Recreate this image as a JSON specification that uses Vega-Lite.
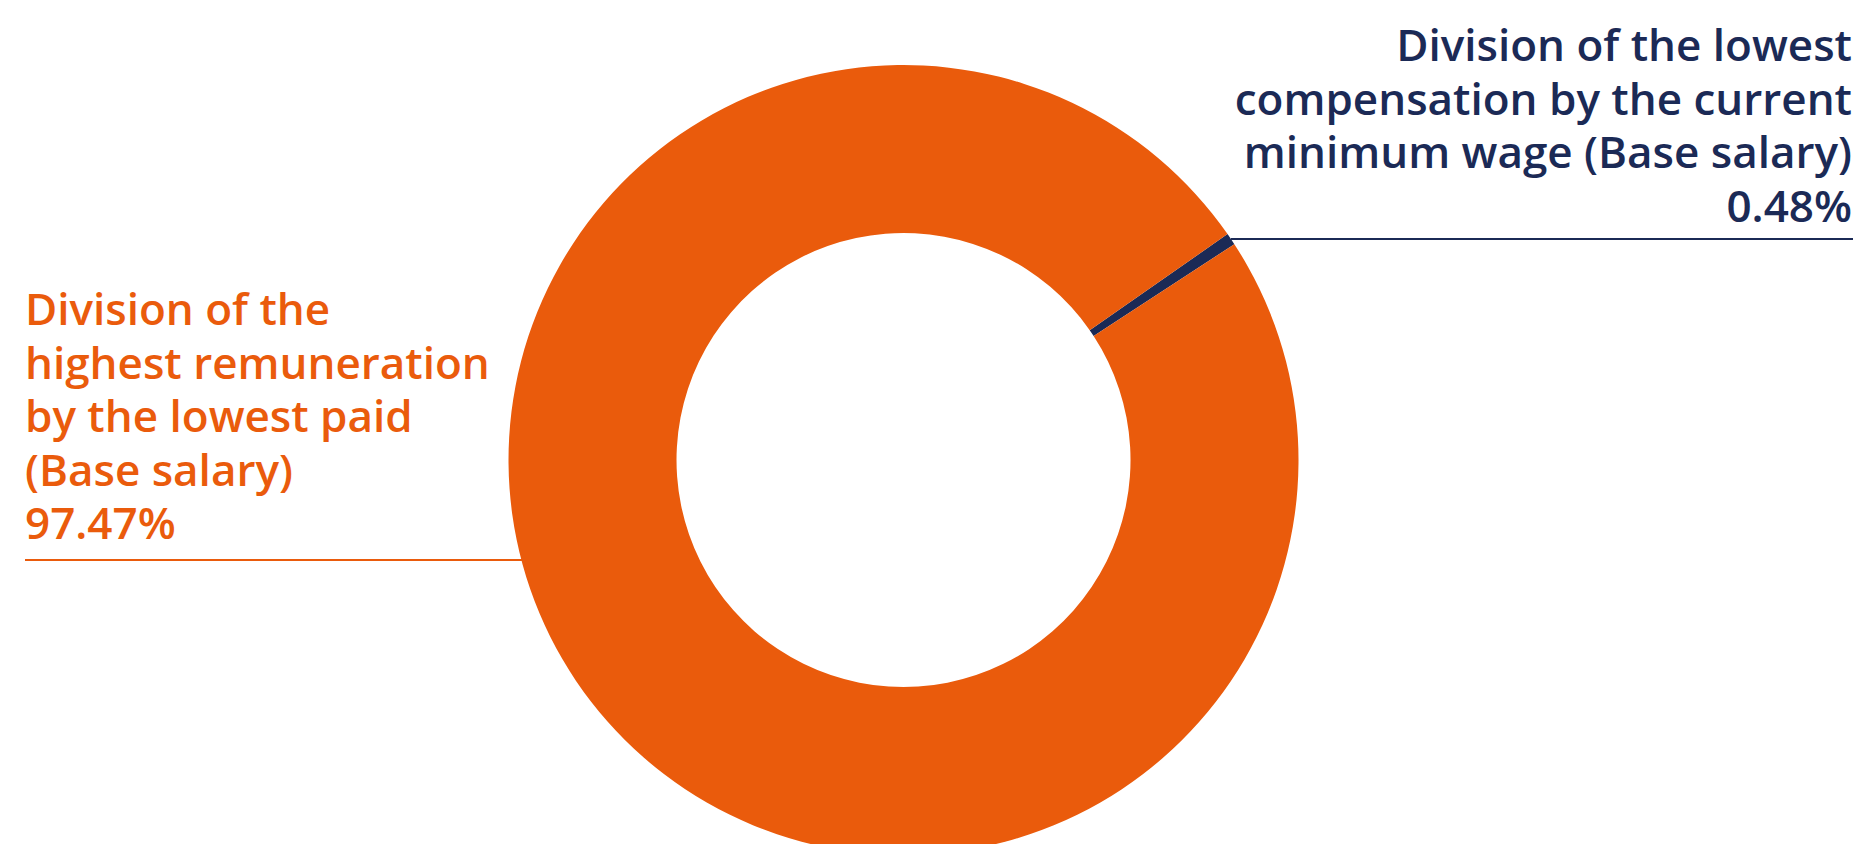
{
  "$schema": "https://vega.github.io/schema/vega-lite/v6.json",
  "width": 1807,
  "height": 920,
  "autosize": {"type": "none"},
  "padding": {"left": 0, "top": 0, "right": 62, "bottom": 0},
  "background": "white",
  "config": {"view": {"stroke": null}},
  "data": {
    "values": [
      {"category": "lowest compensation / minimum wage", "value": 0.48, "label": "Division of the lowest\ncompensation by the current\nminimum wage (Base salary)\n0.48%"},
      {"category": "highest remuneration / lowest paid", "value": 97.47, "label": "Division of the\nhighest remuneration\nby the lowest paid\n(Base salary)\n97.47%"}
    ]
  },
  "layer": [
    {
      "transform": [{"filter": "datum.value < 1"}],
      "mark": {"type": "rule", "strokeWidth": 2, "color": "#1B2A56"},
      "encoding": {"x": {"value": 1231}, "x2": {"value": 1853}, "y": {"value": 239}}
    },
    {
      "transform": [{"filter": "datum.value > 1"}],
      "mark": {"type": "rule", "strokeWidth": 2, "color": "#EA5B0C"},
      "encoding": {"x": {"value": 25}, "x2": {"value": 530}, "y": {"value": 560}}
    },
    {
      "mark": {"type": "arc", "outerRadius": 395, "innerRadius": 227},
      "encoding": {
        "theta": {"field": "value", "type": "quantitative", "stack": true, "scale": {"range": [0.962, 7.2452], "nice": false, "zero": true}},
        "order": {"field": "value", "sort": "ascending"},
        "color": {
          "field": "category", "type": "nominal", "legend": null,
          "scale": {"domain": ["lowest compensation / minimum wage", "highest remuneration / lowest paid"], "range": ["#1B2A56", "#EA5B0C"]}
        }
      }
    },
    {
      "transform": [{"filter": "datum.value < 1"}],
      "mark": {"type": "text", "align": "right", "baseline": "alphabetic", "x": 1852, "y": 61, "lineBreak": "\n", "lineHeight": 53.5, "font": "Open Sans", "fontWeight": 600, "fontSize": 44, "color": "#1B2A56"},
      "encoding": {"text": {"field": "label", "type": "nominal"}}
    },
    {
      "transform": [{"filter": "datum.value > 1"}],
      "mark": {"type": "text", "align": "left", "baseline": "alphabetic", "x": 25, "y": 325, "lineBreak": "\n", "lineHeight": 53.5, "font": "Open Sans", "fontWeight": 600, "fontSize": 44, "color": "#EA5B0C"},
      "encoding": {"text": {"field": "label", "type": "nominal"}}
    }
  ]
}
